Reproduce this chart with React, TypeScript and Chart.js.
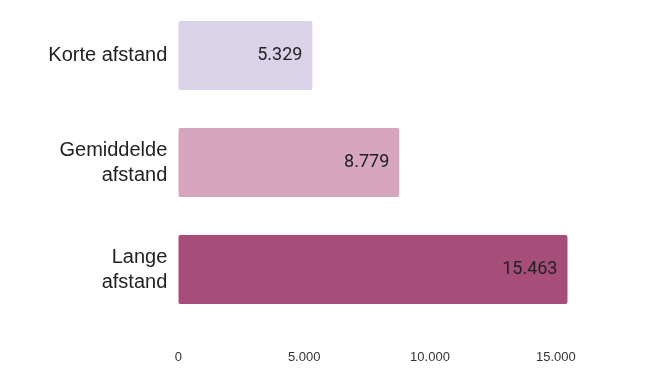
import React, { useEffect, useRef } from "react";
import { Chart, registerables } from "chart.js";

Chart.register(...registerables);

const categories: string[][] = [["Korte afstand"], ["Gemiddelde", "afstand"], ["Lange", "afstand"]];
const values: number[] = [5329, 8779, 15463];
const barColors: string[] = ["#d9d2e9", "#d5a6bd", "#a64d79"];
const tickValues: number[] = [0, 5000, 10000, 15000];
const axisMax = 16000;

const fmt = (n: number) => Math.round(n).toString().replace(/\B(?=(\d{3})+(?!\d))/g, ".");

const valueLabels = {
  id: "valueLabels",
  afterDatasetsDraw(chart: any) {
    const ctx = chart.ctx;
    const meta = chart.getDatasetMeta(0);
    ctx.save();
    ctx.font = "18px Roboto, 'Liberation Sans', Arial, sans-serif";
    ctx.fillStyle = "#222222";
    ctx.textAlign = "right";
    ctx.textBaseline = "middle";
    meta.data.forEach((el: any, i: number) => {
      ctx.fillText(fmt(values[i]), el.x - 10, el.y);
    });
    ctx.restore();
  },
};

export default function App() {
  const ref = useRef<HTMLCanvasElement | null>(null);
  useEffect(() => {
    if (!ref.current) return;
    const chart = new Chart(ref.current, {
      type: "bar",
      data: {
        labels: categories as any,
        datasets: [
          {
            data: values,
            backgroundColor: barColors,
            borderRadius: 2,
            borderSkipped: false,
            barPercentage: 0.645,
            categoryPercentage: 1,
          },
        ],
      },
      options: {
        indexAxis: "y",
        responsive: false,
        animation: false,
        layout: { padding: { top: 2, right: 71, left: 0, bottom: 0 } },
        plugins: { legend: { display: false }, tooltip: { enabled: false }, title: { display: false } },
        scales: {
          x: {
            min: 0,
            max: axisMax,
            grid: { display: false, drawTicks: false },
            border: { display: false },
            afterBuildTicks: (scale: any) => {
              scale.ticks = tickValues.map((v) => ({ value: v }));
            },
            afterFit: (scale: any) => {
              scale.height = 62;
            },
            ticks: {
              padding: 27,
              color: "#333333",
              font: { family: "'Liberation Sans', Arial, sans-serif", size: 13 },
              callback: (v: any) => fmt(Number(v)),
              maxRotation: 0,
            },
          },
          y: {
            grid: { display: false, drawTicks: false },
            border: { display: false },
            afterFit: (scale: any) => {
              scale.width = 178.3;
              scale.paddingTop = 0;
              scale.paddingBottom = 0;
            },
            ticks: {
              padding: 11,
              color: "#222222",
              font: { family: "'Liberation Sans', Arial, sans-serif", size: 20, lineHeight: 1.25 },
            },
          },
        },
      },
      plugins: [valueLabels],
    });
    return () => chart.destroy();
  }, []);
  return (
    <div style={{ position: "absolute", left: 0, top: 0, width: 652, height: 385, background: "#ffffff" }}>
      <canvas ref={ref} width={652} height={385} style={{ display: "block" }} />
    </div>
  );
}
